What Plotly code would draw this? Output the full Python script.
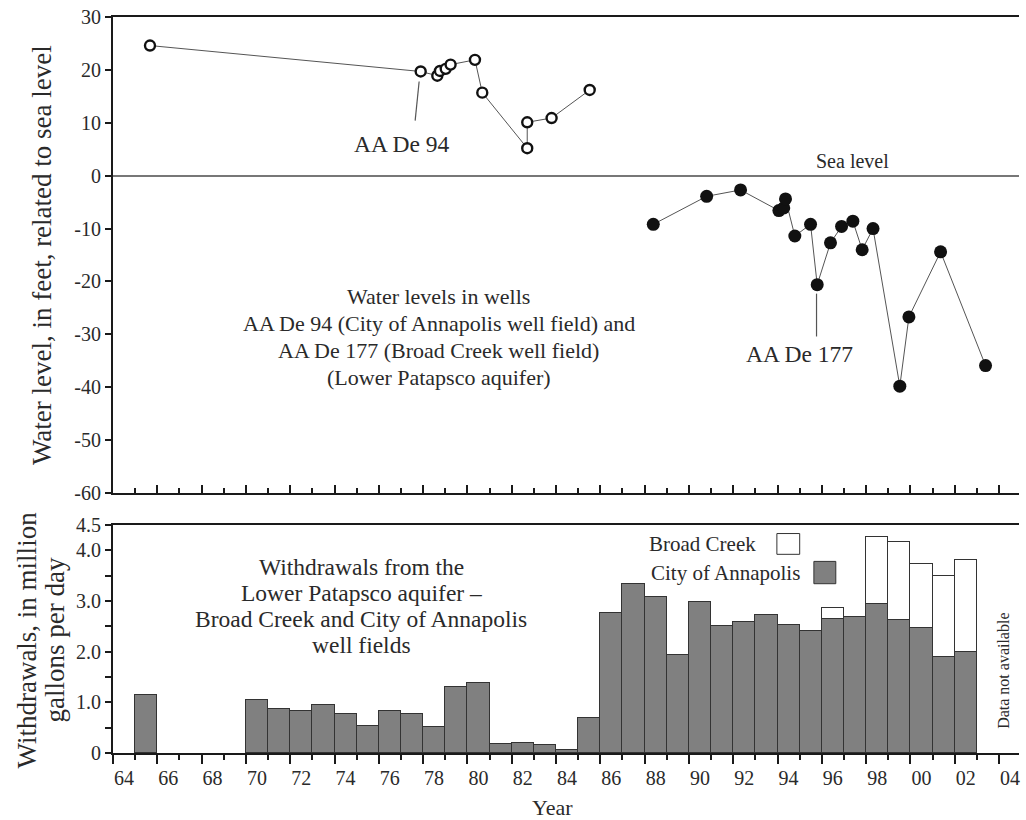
import plotly.graph_objects as go

# ---------------- data ----------------
de94_year = [1965.67, 1977.89, 1978.64, 1978.76, 1979.02, 1979.24, 1980.34, 1980.67, 1982.7, 1982.7, 1983.8, 1985.52]
de94_level = [24.6, 19.7, 18.9, 19.8, 20.2, 21.0, 21.9, 15.7, 5.2, 10.1, 10.9, 16.2]

de177_year = [1988.39, 1990.80, 1992.33, 1994.06, 1994.28, 1994.36, 1994.78, 1995.49, 1995.79,
              1996.39, 1996.89, 1997.40, 1997.82, 1998.31, 1999.52, 1999.93, 2001.36, 2003.39]
de177_level = [-9.2, -3.9, -2.7, -6.6, -6.1, -4.4, -11.4, -9.2, -20.6,
               -12.7, -9.6, -8.6, -14.0, -10.0, -39.8, -26.7, -14.4, -35.9]

annap_year = [1965, 1970, 1971, 1972, 1973, 1974, 1975, 1976, 1977, 1978, 1979, 1980,
              1981, 1982, 1983, 1984, 1985, 1986, 1987, 1988, 1989, 1990, 1991, 1992,
              1993, 1994, 1995, 1996, 1997, 1998, 1999, 2000, 2001, 2002]
annap_wd = [1.15, 1.04, 0.87, 0.84, 0.95, 0.78, 0.54, 0.84, 0.78, 0.52, 1.30, 1.39,
            0.17, 0.19, 0.15, 0.07, 0.69, 2.77, 3.33, 3.08, 1.94, 2.99, 2.51, 2.59,
            2.72, 2.53, 2.40, 2.65, 2.69, 2.94, 2.62, 2.47, 1.89, 2.00]
broad_year = [1996, 1998, 1999, 2000, 2001, 2002]
broad_wd = [0.21, 1.33, 1.55, 1.27, 1.61, 1.81]

year_tick_vals = list(range(1964, 2005, 2))
year_tick_text = ["64", "66", "68", "70", "72", "74", "76", "78", "80", "82", "84", "86",
                  "88", "90", "92", "94", "96", "98", "00", "02", "04"]
level_tick_vals = [30, 20, 10, 0, -10, -20, -30, -40, -50, -60]
level_tick_text = ["30", "20", "10", "0", "-10", "-20", "-30", "-40", "-50", "-60"]
wd_tick_vals = [0, 1, 2, 3, 4, 4.5]
wd_tick_text = ["0", "1.0", "2.0", "3.0", "4.0", "4.5"]

# ---------------- style ----------------
FONT = "Liberation Serif"
TXT = "#2a2a2a"
AX = "#1a1a1a"
XR = [1964, 2004.9]

fig = go.Figure()

fig.add_trace(go.Scatter(
    x=de94_year, y=de94_level, mode="lines+markers", xaxis="x", yaxis="y",
    line=dict(color="#555555", width=1),
    marker=dict(symbol="circle", size=10, color="white", line=dict(color="#111111", width=2.4)),
    showlegend=False, hoverinfo="x+y"))
fig.add_trace(go.Scatter(
    x=de177_year, y=de177_level, mode="lines+markers", xaxis="x", yaxis="y",
    line=dict(color="#555555", width=1),
    marker=dict(symbol="circle", size=13, color="#111111"),
    showlegend=False, hoverinfo="x+y"))

fig.add_trace(go.Bar(
    x=[y + 0.5 for y in annap_year], y=annap_wd, width=1, xaxis="x2", yaxis="y2",
    marker=dict(color="#808080", line=dict(color="#333333", width=1)),
    name="City of Annapolis", showlegend=False))
fig.add_trace(go.Bar(
    x=[y + 0.5 for y in broad_year], y=broad_wd, width=1, xaxis="x2", yaxis="y2",
    marker=dict(color="white", line=dict(color="#333333", width=1)),
    name="Broad Creek", showlegend=False))

tickfont = dict(family=FONT, size=20, color=TXT)

fig.update_layout(
    width=1026, height=820,
    margin=dict(l=113, r=6, t=14, b=67),
    paper_bgcolor="white", plot_bgcolor="white",
    barmode="stack", bargap=0,
    font=dict(family=FONT, color=TXT),
    xaxis=dict(domain=[0, 1], anchor="y", range=XR, showgrid=False, zeroline=False,
               showline=True, linecolor=AX, linewidth=2, mirror=True,
               tickvals=year_tick_vals, ticks="inside", ticklen=8, tickwidth=1.5, tickcolor=AX,
               showticklabels=False,
               minor=dict(tickvals=[y + 1 for y in year_tick_vals[:-1]], ticks="inside",
                          ticklen=5, tickwidth=1.5, tickcolor=AX)),
    yaxis=dict(domain=[0.3532, 1], anchor="x", range=[-60, 30], showgrid=False,
               zeroline=True, zerolinecolor="#777777", zerolinewidth=1.5,
               showline=True, linecolor=AX, linewidth=2,
               tickvals=level_tick_vals, ticktext=level_tick_text,
               ticks="outside", ticklen=6, tickwidth=1.5, tickcolor=AX, tickfont=tickfont),
    yaxis3=dict(overlaying="y", side="right", anchor="x", range=[-60, 30], showgrid=False,
                zeroline=False, showline=True, linecolor=AX, linewidth=2,
                tickvals=level_tick_vals, ticks="inside", ticklen=6, tickwidth=1.5,
                tickcolor=AX, showticklabels=False),
    xaxis2=dict(domain=[0, 1], anchor="y2", range=XR, showgrid=False, zeroline=False,
                showline=True, linecolor=AX, linewidth=2, mirror=True,
                tickvals=year_tick_vals, ticktext=year_tick_text,
                ticks="outside", ticklen=9, tickwidth=1.5, tickcolor=AX,
                ticklabelshift=11, ticklabelstandoff=-3, tickfont=tickfont,
                minor=dict(tickvals=[y + 1 for y in year_tick_vals[:-1]], ticks="outside",
                           ticklen=5, tickwidth=1.5, tickcolor=AX)),
    yaxis2=dict(domain=[0, 0.3099], anchor="x2", range=[0, 4.5], showgrid=False,
                zeroline=False, showline=True, linecolor=AX, linewidth=2,
                tickvals=wd_tick_vals, ticktext=wd_tick_text,
                ticks="outside", ticklen=6, tickwidth=1.5, tickcolor=AX, tickfont=tickfont,
                minor=dict(tickvals=[0.5, 1.5, 2.5, 3.5], ticks="outside", ticklen=6,
                           tickwidth=1.5, tickcolor=AX)),
    yaxis4=dict(overlaying="y2", side="right", anchor="x2", range=[0, 4.5], showgrid=False,
                zeroline=False, showline=True, linecolor=AX, linewidth=2,
                tickvals=[0.5, 1, 1.5, 2, 2.5, 3, 3.5, 4], ticks="inside", ticklen=6,
                tickwidth=1.5, tickcolor=AX, showticklabels=False),
)

ann = []
def txt(x, y, s, size=22, xref="x", yref="y", **kw):
    d = dict(x=x, y=y, text=s, xref=xref, yref=yref, showarrow=False,
             xanchor="center", yanchor="middle",
             font=dict(family=FONT, size=size, color=TXT))
    d.update(kw)
    ann.append(d)

# top panel texts
txt(1977.05, 5.9, "AA De 94", size=23.5)
txt(1994.97, -33.8, "AA De 177", size=23.5)
txt(1997.4, 0.3, "Sea level", size=20, yanchor="bottom")
for i, line in enumerate(["Water levels in wells",
                          "AA De 94 (City of Annapolis well field) and",
                          "AA De 177 (Broad Creek well field)",
                          "(Lower Patapsco aquifer)"]):
    txt(1978.7, -22.9 - 5.1 * i, line)

# bottom panel texts
for i, line in enumerate(["Withdrawals from the",
                          "Lower Patapsco aquifer \u2013",
                          "Broad Creek and City of Annapolis",
                          "well fields"]):
    txt(1975.2, 3.66 - 0.51 * i, line, size=23.5, xref="x2", yref="y2")
txt(1993.1, 4.12, "Broad Creek", size=21, xref="x2", yref="y2", xanchor="right")
txt(1995.1, 3.56, "City of Annapolis", size=21, xref="x2", yref="y2", xanchor="right")
txt(2004.2, 1.63, "Data not available", size=16, xref="x2", yref="y2", textangle=-90)

# axis titles (paper coords relative to plot area: x0=113px, width 907px; y0=753px, height 739px)
txt(-0.0783, 0.6766, "Water level, in feet, related to sea level", size=27,
    xref="paper", yref="paper", textangle=-90)
txt(-0.0948, 0.153, "Withdrawals, in million", size=27, xref="paper", yref="paper",
    textangle=-90)
txt(-0.0639, 0.153, "gallons per day", size=27, xref="paper", yref="paper", textangle=-90)
txt(0.485, -0.0744, "Year", xref="paper", yref="paper")

fig.update_layout(annotations=ann)

# leader lines and legend boxes
shapes = [
    dict(type="line", xref="x", yref="y", x0=1977.82, y0=17.8, x1=1977.64, y1=10.4,
         line=dict(color="#555555", width=1.2)),
    dict(type="line", xref="x", yref="y", x0=1995.76, y0=-22.3, x1=1995.76, y1=-30.4,
         line=dict(color="#555555", width=1.2)),
    dict(type="rect", xref="x2", yref="y2", x0=1993.97, x1=1995.0, y0=3.92, y1=4.33,
         fillcolor="white", line=dict(color="#333333", width=1)),
    dict(type="rect", xref="x2", yref="y2", x0=1995.64, x1=1996.63, y0=3.34, y1=3.78,
         fillcolor="#808080", line=dict(color="#333333", width=1)),
]
fig.update_layout(shapes=shapes)

fig.write_html(
    "out.html",
    config={"displayModeBar": False},
    post_script="document.body.style.margin='0';document.body.style.overflow='hidden';",
)
